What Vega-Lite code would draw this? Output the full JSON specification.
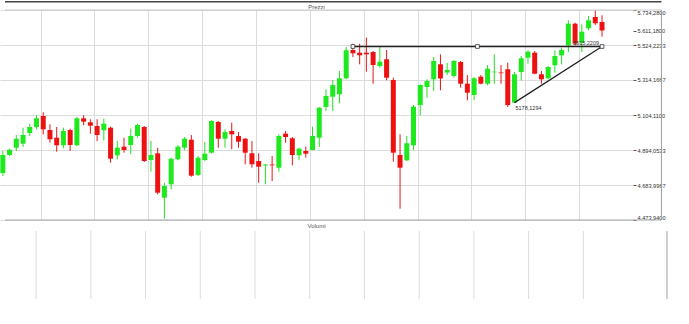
{
  "$schema": "https://vega.github.io/schema/vega-lite/v6.json",
  "padding": 0,
  "spacing": 1,
  "config": {
    "font": "Liberation Sans",
    "view": {"stroke": null}
  },
  "datasets": {
    "candles": [
      {"i":1,"o":4756.0,"h":4888.1,"l":4738.0,"c":4864.0},
      {"i":2,"o":4864.0,"h":4901.9,"l":4858.0,"c":4895.9},
      {"i":3,"o":4907.9,"h":4984.1,"l":4888.1,"c":4961.9},
      {"i":4,"o":4931.9,"h":5027.9,"l":4912.1,"c":4984.1},
      {"i":5,"o":4996.1,"h":5051.9,"l":4978.1,"c":5032.1},
      {"i":6,"o":5032.1,"h":5102.3,"l":5018.3,"c":5084.3},
      {"i":7,"o":5098.1,"h":5120.3,"l":4988.3,"c":5018.3},
      {"i":8,"o":5014.1,"h":5048.3,"l":4937.9,"c":4958.3},
      {"i":9,"o":4967.9,"h":5032.1,"l":4883.9,"c":4922.3},
      {"i":10,"o":4922.3,"h":5027.9,"l":4904.3,"c":5008.1},
      {"i":11,"o":5014.1,"h":5021.9,"l":4888.1,"c":4924.1},
      {"i":12,"o":4922.3,"h":5092.1,"l":4918.1,"c":5084.3},
      {"i":13,"o":5084.3,"h":5102.3,"l":5042.3,"c":5063.9},
      {"i":14,"o":5060.3,"h":5078.3,"l":4991.9,"c":5039.9},
      {"i":15,"o":5038.1,"h":5078.3,"l":4948.1,"c":4984.1},
      {"i":16,"o":5012.3,"h":5081.9,"l":4952.3,"c":5051.9},
      {"i":17,"o":5027.9,"h":5033.9,"l":4817.8,"c":4841.8},
      {"i":18,"o":4862.2,"h":4948.1,"l":4838.2,"c":4907.9},
      {"i":19,"o":4913.9,"h":4967.9,"l":4877.9,"c":4894.1},
      {"i":20,"o":4924.1,"h":5021.9,"l":4868.2,"c":4978.1},
      {"i":21,"o":4978.1,"h":5051.9,"l":4967.9,"c":5044.1},
      {"i":22,"o":5032.1,"h":5038.1,"l":4822.0,"c":4828.0},
      {"i":23,"o":4834.0,"h":4948.1,"l":4763.8,"c":4864.0},
      {"i":24,"o":4874.2,"h":4907.9,"l":4628.2,"c":4637.8},
      {"i":25,"o":4607.8,"h":4697.8,"l":4482.9,"c":4678.0},
      {"i":26,"o":4688.2,"h":4847.8,"l":4658.2,"c":4841.8},
      {"i":27,"o":4838.2,"h":4924.1,"l":4832.2,"c":4913.9},
      {"i":28,"o":4907.9,"h":4972.1,"l":4892.3,"c":4961.9},
      {"i":29,"o":4955.9,"h":4984.1,"l":4733.8,"c":4739.8},
      {"i":30,"o":4744.0,"h":4858.0,"l":4738.0,"c":4847.8},
      {"i":31,"o":4834.0,"h":4942.1,"l":4828.0,"c":4871.9},
      {"i":32,"o":4877.9,"h":5072.3,"l":4871.9,"c":5068.1},
      {"i":33,"o":5062.1,"h":5068.1,"l":4907.9,"c":4961.9},
      {"i":34,"o":4961.9,"h":5018.3,"l":4907.9,"c":5002.1},
      {"i":35,"o":5008.1,"h":5057.9,"l":4898.3,"c":4988.3},
      {"i":36,"o":4978.1,"h":5002.1,"l":4907.9,"c":4943.9},
      {"i":37,"o":4961.9,"h":4966.1,"l":4808.2,"c":4877.9},
      {"i":38,"o":4874.2,"h":4948.1,"l":4787.8,"c":4808.2},
      {"i":39,"o":4828.0,"h":4874.2,"l":4697.8,"c":4793.8},
      {"i":40,"o":4801.0,"h":4808.2,"l":4688.2,"c":4807.0},
      {"i":41,"o":4807.0,"h":4858.0,"l":4708.0,"c":4802.2},
      {"i":42,"o":4787.8,"h":4988.3,"l":4763.8,"c":4978.1},
      {"i":43,"o":4991.9,"h":5008.1,"l":4937.9,"c":4972.1},
      {"i":44,"o":4964.3,"h":4972.1,"l":4802.2,"c":4864.0},
      {"i":45,"o":4862.2,"h":4907.9,"l":4832.2,"c":4901.9},
      {"i":46,"o":4888.1,"h":4913.9,"l":4847.8,"c":4871.9},
      {"i":47,"o":4894.1,"h":5033.9,"l":4892.3,"c":4978.1},
      {"i":48,"o":4967.9,"h":5152.1,"l":4912.1,"c":5147.9},
      {"i":49,"o":5152.1,"h":5258.4,"l":5128.1,"c":5218.1},
      {"i":50,"o":5213.9,"h":5314.2,"l":5128.1,"c":5284.2},
      {"i":51,"o":5228.3,"h":5368.2,"l":5174.3,"c":5324.4},
      {"i":52,"o":5324.4,"h":5512.2,"l":5318.4,"c":5492.4},
      {"i":53,"o":5494.2,"h":5532.0,"l":5452.2,"c":5474.4},
      {"i":54,"o":5478.0,"h":5532.0,"l":5408.4,"c":5462.4},
      {"i":55,"o":5478.0,"h":5568.0,"l":5364.0,"c":5468.4},
      {"i":56,"o":5482.2,"h":5488.2,"l":5292.0,"c":5404.2},
      {"i":57,"o":5398.2,"h":5512.2,"l":5388.0,"c":5424.0},
      {"i":58,"o":5438.4,"h":5494.2,"l":5312.4,"c":5328.0},
      {"i":59,"o":5314.2,"h":5328.0,"l":4823.8,"c":4877.9},
      {"i":60,"o":4864.0,"h":4988.3,"l":4541.8,"c":4787.8},
      {"i":61,"o":4832.2,"h":4978.1,"l":4828.0,"c":4934.3},
      {"i":62,"o":4922.3,"h":5164.1,"l":4894.1,"c":5153.9},
      {"i":63,"o":5164.1,"h":5288.4,"l":5102.3,"c":5284.2},
      {"i":64,"o":5272.2,"h":5318.4,"l":5207.9,"c":5308.2},
      {"i":65,"o":5318.4,"h":5452.2,"l":5248.1,"c":5428.2},
      {"i":66,"o":5408.4,"h":5468.4,"l":5252.4,"c":5323.2},
      {"i":67,"o":5359.2,"h":5416.2,"l":5344.2,"c":5374.2},
      {"i":68,"o":5338.2,"h":5434.2,"l":5328.0,"c":5428.2},
      {"i":69,"o":5422.2,"h":5428.2,"l":5268.0,"c":5292.0},
      {"i":70,"o":5292.0,"h":5344.2,"l":5192.3,"c":5237.9},
      {"i":71,"o":5224.1,"h":5332.2,"l":5192.3,"c":5324.4},
      {"i":72,"o":5334.0,"h":5344.2,"l":5288.4,"c":5292.0},
      {"i":73,"o":5292.0,"h":5404.2,"l":5282.4,"c":5382.0},
      {"i":74,"o":5360.4,"h":5468.4,"l":5292.0,"c":5364.0},
      {"i":75,"o":5359.2,"h":5404.2,"l":5292.0,"c":5355.0},
      {"i":76,"o":5378.4,"h":5418.0,"l":5152.1,"c":5164.1},
      {"i":77,"o":5178.13,"h":5362.2,"l":5178.13,"c":5348.4},
      {"i":78,"o":5362.2,"h":5458.2,"l":5312.4,"c":5444.4},
      {"i":79,"o":5448.0,"h":5492.4,"l":5412.0,"c":5484.0},
      {"i":80,"o":5478.0,"h":5488.2,"l":5348.4,"c":5352.0},
      {"i":81,"o":5348.4,"h":5368.2,"l":5292.0,"c":5318.4},
      {"i":82,"o":5324.4,"h":5398.2,"l":5318.4,"c":5392.2},
      {"i":83,"o":5402.4,"h":5492.4,"l":5358.0,"c":5458.2},
      {"i":84,"o":5462.4,"h":5508.0,"l":5408.4,"c":5494.2},
      {"i":85,"o":5522.4,"h":5672.5,"l":5482.2,"c":5652.1},
      {"i":86,"o":5652.1,"h":5658.1,"l":5522.4,"c":5532.0},
      {"i":87,"o":5538.0,"h":5648.5,"l":5482.2,"c":5604.0},
      {"i":88,"o":5624.5,"h":5698.3,"l":5612.4,"c":5672.5},
      {"i":89,"o":5692.3,"h":5732.5,"l":5644.3,"c":5654.5},
      {"i":90,"o":5662.3,"h":5702.5,"l":5574.0,"c":5611.18}
    ],
    "frameTopLine": [{"x":1.32,"x2":98.83,"y":5734.28}],
    "frameBottomLine": [{"x":1.32,"x2":98.83,"y":4473.94}],
    "windowTop": [{"x":1.32,"x2":98.83,"y":5784.1}],
    "edge": [{"x":98.83}],
    "vgrid": [
      {"x":6.6},{"x":14.6},{"x":22.6},{"x":30.6},{"x":38.6},{"x":46.6},{"x":54.6},{"x":62.6},{"x":70.6},{"x":78.6},{"x":86.6}
    ],
    "lines": [
      {"i":53,"v":5515.22,"i2":90,"v2":5515.22},
      {"i":77,"v":5178.13,"i2":90,"v2":5515.22}
    ],
    "handles": [
      {"i":53,"v":5515.22},{"i":71.5,"v":5515.22},{"i":90,"v":5515.22}
    ],
    "lowlabel": [{"i":77,"v":5178.13,"t":"5178,1294"}],
    "highlabel": [{"i":90,"v":5515.22,"t":"5515,2209"}]
  },
  "vconcat": [
    {
      "width": 633,
      "height": 210,
      "title": {"text": "Prezzi", "fontSize": 6, "fontWeight": "normal", "color": "#555555", "offset": -8.7, "anchor": "middle"},
      "encoding": {
        "x": {"type": "quantitative", "scale": {"domain": [1.32, 93.86], "nice": false, "zero": false},
          "axis": {"values": [6.6, 14.6, 22.6, 30.6, 38.6, 46.6, 54.6, 62.6, 70.6, 78.6, 86.6],
            "grid": true, "gridColor": "#dcdcdc", "ticks": false, "labels": false, "domain": false, "title": null}},
        "y": {"type": "quantitative", "scale": {"domain": [4473.94, 5734.28], "nice": false, "zero": false},
          "axis": {"orient": "right", "title": null, "domain": false, "grid": true, "gridColor": "#dcdcdc",
            "gridOpacity": {"condition": {"test": "datum.value === 5611.18", "value": 0}, "value": 1},
            "values": [4473.94, 4683.9967, 4894.0533, 5104.11, 5314.1667, 5524.2233, 5611.18, 5734.28],
            "labelExpr": "replace(replace(replace(format(datum.value, ',.4f'), ',', '#'), '.', ','), '#', '.')",
            "labelFontSize": 5.6, "labelColor": "#333333", "labelFlush": true, "labelPadding": 1,
            "tickSize": 3, "tickColor": "#555555"}}
      },
      "layer": [
        {
          "data": {"name": "candles"},
          "mark": {"type": "rule", "clip": true, "strokeWidth": 1},
          "encoding": {
            "x": {"field": "i"},
            "y": {"field": "l"},
            "y2": {"field": "h"},
            "color": {"condition": {"test": "datum.o > datum.c", "value": "#e81414"}, "value": "#22e022"}
          }
        },
        {
          "data": {"name": "candles"},
          "mark": {"type": "bar", "size": 5, "clip": true},
          "encoding": {
            "x": {"field": "i"},
            "y": {"field": "o"},
            "y2": {"field": "c"},
            "color": {"condition": {"test": "datum.o > datum.c", "value": "#ee1111"}, "value": "#1ee81e"}
          }
        },
        {
          "data": {"name": "frameTopLine"},
          "mark": {"type": "rule", "color": "#c8c8c8", "strokeWidth": 1},
          "encoding": {"x": {"field": "x"}, "x2": {"field": "x2"}, "y": {"field": "y"}}
        },
        {
          "data": {"name": "frameBottomLine"},
          "mark": {"type": "rule", "color": "#a0a4a8", "strokeWidth": 1},
          "encoding": {"x": {"field": "x"}, "x2": {"field": "x2"}, "y": {"field": "y"}}
        },
        {
          "data": {"name": "windowTop"},
          "mark": {"type": "rule", "color": "#444444", "strokeWidth": 1.5},
          "encoding": {"x": {"field": "x"}, "x2": {"field": "x2"}, "y": {"field": "y"}}
        },
        {
          "data": {"name": "edge"},
          "mark": {"type": "rule", "color": "#a0a0a0"},
          "encoding": {"x": {"field": "x"}}
        },
        {
          "data": {"name": "lines"},
          "mark": {"type": "rule", "color": "#222222", "strokeWidth": 1.3},
          "encoding": {"x": {"field": "i"}, "x2": {"field": "i2"}, "y": {"field": "v"}, "y2": {"field": "v2"}}
        },
        {
          "data": {"name": "handles"},
          "mark": {"type": "point", "shape": "square", "size": 14, "filled": true, "fill": "#ffffff", "stroke": "#333333", "strokeWidth": 0.8, "opacity": 1},
          "encoding": {"x": {"field": "i"}, "y": {"field": "v"}}
        },
        {
          "data": {"name": "lowlabel"},
          "mark": {"type": "text", "align": "left", "baseline": "middle", "dx": 1, "dy": 5, "fontSize": 5.5, "color": "#333333"},
          "encoding": {"x": {"field": "i"}, "y": {"field": "v"}, "text": {"field": "t"}}
        },
        {
          "data": {"name": "highlabel"},
          "mark": {"type": "text", "align": "right", "baseline": "middle", "dx": -3, "dy": -4, "fontSize": 5.5, "color": "#333333"},
          "encoding": {"x": {"field": "i"}, "y": {"field": "v"}, "text": {"field": "t"}}
        }
      ]
    },
    {
      "width": 633,
      "height": 68,
      "title": {"text": "Volumi", "fontSize": 6, "fontWeight": "normal", "color": "#555555", "offset": 2, "anchor": "middle"},
      "encoding": {
        "x": {"type": "quantitative", "scale": {"domain": [1.32, 93.86], "nice": false, "zero": false}, "axis": null}
      },
      "layer": [
        {
          "data": {"name": "vgrid"},
          "mark": {"type": "rule", "color": "#dcdcdc"},
          "encoding": {"x": {"field": "x"}}
        },
        {
          "data": {"name": "edge"},
          "mark": {"type": "rule", "color": "#a0a0a0"},
          "encoding": {"x": {"field": "x"}}
        }
      ]
    }
  ]
}
